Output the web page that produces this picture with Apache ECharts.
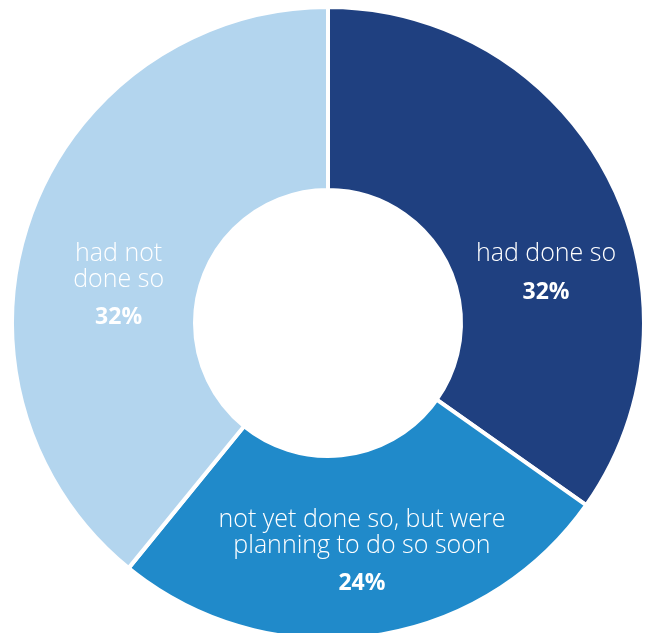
<!DOCTYPE html>
<html>
<head>
<meta charset="utf-8">
<script src="https://cdn.jsdelivr.net/npm/echarts@6/dist/echarts.min.js"></script>
<style>
  html, body { margin: 0; padding: 0; background: #fff; }
  #main { width: 649px; height: 633px; }
</style>
</head>
<body>
<div id="main"></div>
<script>
// slice order clockwise from 12 o'clock
var categories = ['had done so', 'not yet done so, but were\nplanning to do so soon', 'had not\ndone so'];
// slice sizes
var sliceValues = [32, 24, 36];
// percentages as printed on the chart
var printedPercents = ['32%', '24%', '32%'];
var colors = ['#1f4080', '#208aca', '#b3d5ee'];

var chart = echarts.init(document.getElementById('main'));

// nudge of each label from its default spot (mid angle, mid radius)
var labelNudge = [[16, 61], [3, 9], [5, 45]];

var seriesData = categories.map(function (name, i) {
  return {
    name: name,
    value: sliceValues[i],
    itemStyle: { color: colors[i] }
  };
});

var option = {
  backgroundColor: '#fff',
  animation: false,
  series: [{
    type: 'pie',
    center: [328, 323],
    radius: [133, 316],
    startAngle: 90,
    clockwise: true,
    avoidLabelOverlap: false,
    itemStyle: {
      borderColor: '#fff',
      borderWidth: 4
    },
    label: {
      show: true,
      position: 'inside',
      color: '#fff',
      align: 'center',
      formatter: function (p) {
        var lines = p.name.split('\n').map(function (l) { return '{n|' + l + '}'; });
        return lines.join('\n') + '\n{p|' + printedPercents[p.dataIndex] + '}';
      },
      rich: {
        n: {
          fontFamily: 'Open Sans',
          fontSize: 25,
          fontWeight: 300,
          color: '#fff',
          lineHeight: 26
        },
        p: {
          fontFamily: 'Open Sans',
          fontSize: 23,
          fontWeight: 'bold',
          color: '#fff',
          lineHeight: 50
        }
      }
    },
    labelLine: { show: false },
    labelLayout: function (params) {
      var d = labelNudge[params.dataIndex];
      return { dx: d[0], dy: d[1] };
    },
    emphasis: { disabled: true },
    data: seriesData
  }]
};

chart.setOption(option);
</script>
</body>
</html>
